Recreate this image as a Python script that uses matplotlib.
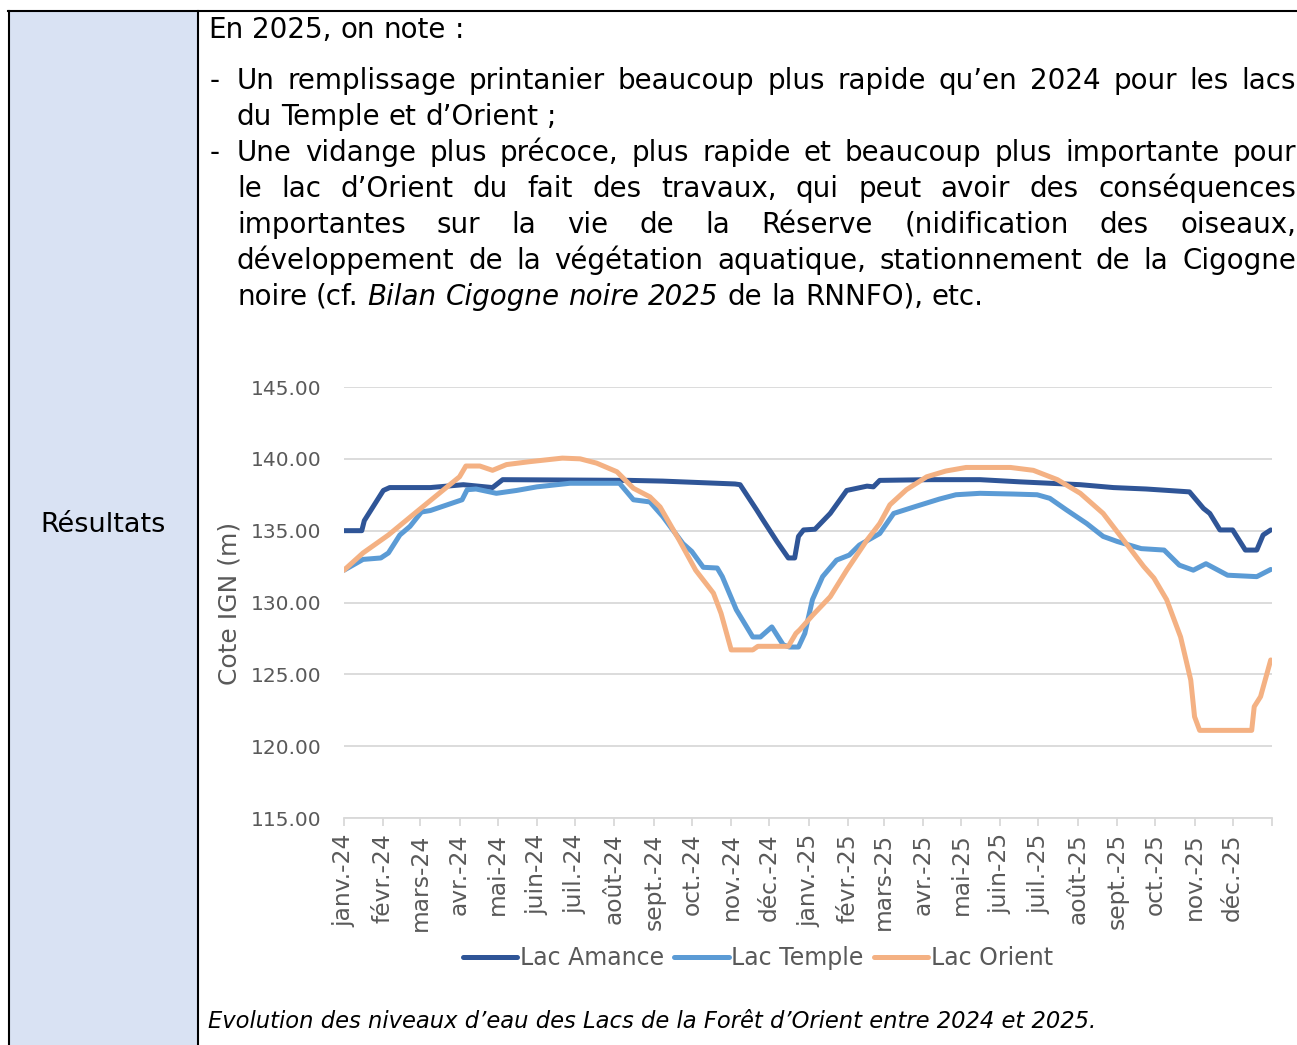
import matplotlib
matplotlib.use('Agg')
import pandas as pd
import matplotlib.pyplot as plt
import matplotlib.dates as mdates
from matplotlib.transforms import IdentityTransform
from matplotlib.patches import Rectangle
from matplotlib.lines import Line2D

# ---- data ----
amance_dates = ['2024-01-01', '2024-01-15', '2024-01-17', '2024-02-01', '2024-02-06',
                '2024-03-09', '2024-04-04', '2024-04-27', '2024-05-05', '2024-08-13',
                '2024-09-08', '2024-11-04', '2024-11-08', '2024-11-21', '2024-11-26',
                '2024-12-07', '2024-12-16', '2024-12-21', '2024-12-24', '2024-12-28',
                '2025-01-06', '2025-01-18', '2025-01-31', '2025-02-16', '2025-02-21',
                '2025-02-26', '2025-04-06', '2025-05-16', '2025-06-16', '2025-08-03',
                '2025-08-29', '2025-09-24', '2025-10-28', '2025-11-08', '2025-11-13',
                '2025-11-21', '2025-12-01', '2025-12-11', '2025-12-20', '2025-12-25',
                '2025-12-31']
amance_vals = [135.0, 135.0, 135.7, 137.8, 138.0,
               138.0, 138.2, 138.0, 138.55, 138.5,
               138.45, 138.25, 138.2, 136.45, 135.75,
               134.25, 133.1, 133.1, 134.6, 135.05,
               135.1, 136.2, 137.8, 138.1, 138.05,
               138.5, 138.55, 138.55, 138.4, 138.2,
               138.0, 137.9, 137.7, 136.55, 136.2,
               135.05, 135.05, 133.65, 133.65, 134.7,
               135.05]

temple_dates = ['2024-01-01', '2024-01-16', '2024-01-30', '2024-02-05', '2024-02-14',
                '2024-02-22', '2024-03-02', '2024-03-09', '2024-03-19', '2024-04-03',
                '2024-04-07', '2024-04-14', '2024-04-30', '2024-05-16', '2024-06-01',
                '2024-06-27', '2024-08-05', '2024-08-16', '2024-08-29', '2024-09-08',
                '2024-09-24', '2024-10-01', '2024-10-10', '2024-10-21', '2024-10-25',
                '2024-11-05', '2024-11-18', '2024-11-24', '2024-12-03', '2024-12-12',
                '2024-12-17', '2024-12-24', '2024-12-29', '2025-01-04', '2025-01-12',
                '2025-01-23', '2025-02-02', '2025-02-10', '2025-02-26', '2025-03-09',
                '2025-03-25', '2025-04-14', '2025-04-27', '2025-05-16', '2025-06-11',
                '2025-06-30', '2025-07-10', '2025-07-23', '2025-08-08', '2025-08-21',
                '2025-09-01', '2025-09-20', '2025-10-08', '2025-10-20', '2025-10-31',
                '2025-11-10', '2025-11-27', '2025-12-20', '2025-12-31']
temple_vals = [132.25, 133.0, 133.1, 133.45, 134.7,
               135.3, 136.3, 136.4, 136.7, 137.15,
               137.85, 137.9, 137.6, 137.8, 138.05,
               138.3, 138.3, 137.15, 137.0, 136.0,
               134.1, 133.55, 132.45, 132.4, 131.8,
               129.5, 127.6, 127.6, 128.3, 127.05,
               126.9, 126.9, 127.85, 130.2, 131.8,
               132.95, 133.3, 134.0, 134.8, 136.2,
               136.65, 137.2, 137.5, 137.6, 137.55,
               137.5, 137.25, 136.45, 135.5, 134.6,
               134.25, 133.75, 133.65, 132.6, 132.25,
               132.7, 131.9, 131.8, 132.3]

orient_dates = ['2024-01-01', '2024-01-16', '2024-02-05', '2024-02-27', '2024-03-16',
                '2024-04-01', '2024-04-06', '2024-04-17', '2024-04-27', '2024-05-08',
                '2024-05-26', '2024-06-21', '2024-07-05', '2024-07-18', '2024-08-03',
                '2024-08-16', '2024-08-29', '2024-09-06', '2024-09-21', '2024-10-04',
                '2024-10-18', '2024-10-24', '2024-11-01', '2024-11-18', '2024-11-22',
                '2024-12-16', '2024-12-22', '2024-12-25', '2025-01-04', '2025-01-18',
                '2025-01-31', '2025-02-16', '2025-02-26', '2025-03-06', '2025-03-19',
                '2025-04-04', '2025-04-19', '2025-05-05', '2025-06-09', '2025-06-27',
                '2025-07-16', '2025-08-03', '2025-08-21', '2025-09-06', '2025-09-22',
                '2025-09-30', '2025-10-10', '2025-10-21', '2025-10-29', '2025-11-01',
                '2025-11-05', '2025-12-16', '2025-12-18', '2025-12-23', '2025-12-31']
orient_vals = [132.25, 133.45, 134.7, 136.3, 137.6,
               138.75, 139.5, 139.5, 139.2, 139.6,
               139.8, 140.05, 140.0, 139.7, 139.1,
               137.95, 137.35, 136.65, 134.35, 132.25,
               130.65, 129.25, 126.7, 126.7, 126.95,
               126.95, 127.85, 128.1, 129.1, 130.4,
               132.25, 134.35, 135.5, 136.8, 137.85,
               138.75, 139.15, 139.4, 139.4, 139.2,
               138.55, 137.6, 136.2, 134.35, 132.5,
               131.7, 130.2, 127.6, 124.6, 122.05,
               121.1, 121.1, 122.75, 123.45, 126.0]

series_names = ['Lac Amance', 'Lac Temple', 'Lac Orient']
series_colors = ['#2F5597', '#5B9BD5', '#F4B183']

tick_labels = ['janv.-24', 'févr.-24', 'mars-24', 'avr.-24', 'mai-24', 'juin-24',
               'juil.-24', 'août-24', 'sept.-24', 'oct.-24', 'nov.-24', 'déc.-24',
               'janv.-25', 'févr.-25', 'mars-25', 'avr.-25', 'mai-25', 'juin-25',
               'juil.-25', 'août-25', 'sept.-25', 'oct.-25', 'nov.-25', 'déc.-25']

# ---- page ----
W, H = 1297, 1045
plt.rcParams['font.family'] = ['DejaVu Sans']
fig = plt.figure(figsize=(W / 100, H / 100), dpi=100)
ID = IdentityTransform()
renderer = fig.canvas.get_renderer()
BODY = 20
GREY = '#595959'

# table cells
fig.add_artist(Rectangle((9, 0), 189, H - 11, transform=ID,
                         facecolor='#D9E2F3', edgecolor='none'))
for xs, ys in [((8, W), (H - 11, H - 11)), ((9, 9), (0, H - 11)),
               ((198, 198), (0, H - 11))]:
    fig.add_artist(Line2D(xs, ys, transform=ID, color='black', lw=1.5))

fig.text(103, H - 525, 'Résultats', transform=ID, ha='center', va='center',
         fontsize=19.5)


def width_of(s, **kw):
    t = fig.text(0, 0, s, transform=ID, **kw)
    w = t.get_window_extent(renderer).width
    t.remove()
    return w


def write_line(tokens, x0, base, x1=None, size=BODY):
    # tokens: (word, italic) pairs; x1 given -> justified
    kws = [dict(fontsize=size, style='italic' if it else 'normal') for _, it in tokens]
    ws = [width_of(w, **k) for (w, _), k in zip(tokens, kws)]
    space = width_of('n n', fontsize=size) - width_of('nn', fontsize=size)
    gap = space if x1 is None else (x1 - x0 - sum(ws)) / (len(ws) - 1)
    x = x0
    for (w, _), k, wd in zip(tokens, kws, ws):
        fig.text(x, H - base, w, transform=ID, va='baseline', ha='left', **k)
        x += wd + gap


def words(s, it=False):
    return [(w, it) for w in s.split()]


RIGHT = 1296
write_line(words('En 2025, on note :'), 208, 38)
fig.text(210, H - 89, '-', transform=ID, va='baseline', fontsize=BODY)
write_line(words('Un remplissage printanier beaucoup plus rapide qu’en 2024 pour les lacs'),
           237, 89, RIGHT)
write_line(words('du Temple et d’Orient ;'), 237, 125)
fig.text(210, H - 161, '-', transform=ID, va='baseline', fontsize=BODY)
write_line(words('Une vidange plus précoce, plus rapide et beaucoup plus importante pour'),
           237, 161, RIGHT)
write_line(words('le lac d’Orient du fait des travaux, qui peut avoir des conséquences'),
           237, 197, RIGHT)
write_line(words('importantes sur la vie de la Réserve (nidification des oiseaux,'),
           237, 233, RIGHT)
write_line(words('développement de la végétation aquatique, stationnement de la Cigogne'),
           237, 269, RIGHT)
write_line(words('noire (cf.') + words('Bilan Cigogne noire 2025', True)
           + words('de la RNNFO), etc.'), 237, 305)

fig.text(208, H - 1028,
         'Evolution des niveaux d’eau des Lacs de la Forêt d’Orient entre 2024 et 2025.',
         transform=ID, va='baseline', style='italic', fontsize=16.3)

# ---- chart ----
ax = fig.add_axes([344 / W, 1 - 818 / H, (1272 - 344) / W, (818 - 387) / H])
lines = []
for d, v, c in zip([amance_dates, temple_dates, orient_dates],
                   [amance_vals, temple_vals, orient_vals], series_colors):
    ln, = ax.plot(pd.to_datetime(d), v, color=c, lw=3.6,
                  solid_capstyle='round', solid_joinstyle='round')
    lines.append(ln)

ax.set_xlim(pd.Timestamp('2024-01-01'), pd.Timestamp('2026-01-01'))
ticks = pd.date_range('2024-01-01', '2026-01-01', freq='MS')
ax.set_xticks(mdates.date2num(ticks))
ax.set_xticklabels(tick_labels + [''], rotation=90, va='top', ha='center')
ax.set_ylim(115, 145)
ax.set_yticks(range(115, 146, 5))
ax.set_yticklabels([f'{v:.2f}' for v in range(115, 146, 5)])
ax.grid(axis='y', color='#D9D9D9', lw=1.3)
ax.set_axisbelow(True)
for s in ['top', 'right', 'left']:
    ax.spines[s].set_visible(False)
ax.spines['bottom'].set_color('#D9D9D9')
ax.spines['bottom'].set_linewidth(1.3)
ax.tick_params(axis='y', length=0, pad=16, labelcolor=GREY, labelsize=14.5)
ax.tick_params(axis='x', length=6, width=1.3, color='#D9D9D9', pad=5,
               labelcolor=GREY, labelsize=16.8)

fig.text(230, H - 603, 'Cote IGN (m)', transform=ID, rotation=90,
         ha='center', va='center', fontsize=18, color=GREY)

fig.legend(lines, series_names, loc='center', bbox_to_anchor=(758 / W, 1 - 958 / H),
           ncol=3, frameon=False, fontsize=17, handlelength=2.3,
           handletextpad=0.1, columnspacing=0.45, labelcolor=GREY)

fig.savefig('out.png', dpi=100)
